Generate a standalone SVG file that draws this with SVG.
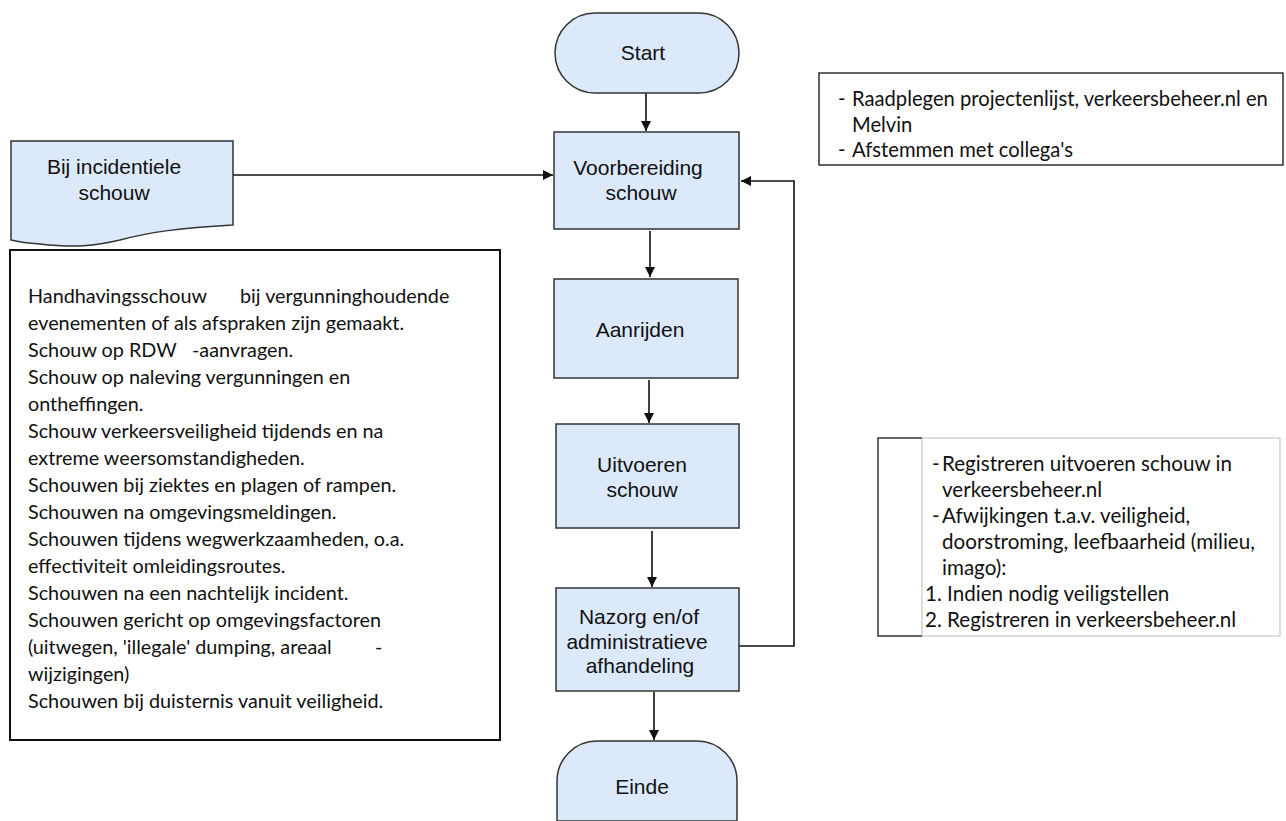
<svg xmlns="http://www.w3.org/2000/svg" width="1286" height="821" viewBox="0 0 1286 821">
<style>
.node{fill:#dbe9fb;stroke:#333;stroke-width:1.5}
.lbl{font-family:"Liberation Sans",Arial,sans-serif;font-size:21px;fill:#111;text-anchor:middle}
.body{font-family:Lato,"Open Sans",sans-serif;font-size:19.8px;fill:#111}
.top{font-size:20.2px}
.rt{font-size:20.6px}
.conn{fill:none;stroke:#111;stroke-width:1.6}
</style>
<defs>
<marker id="arr" viewBox="0 0 10 10" refX="10" refY="5" markerWidth="6.5" markerHeight="6.5" orient="auto" markerUnits="strokeWidth">
<path d="M0,0 L10,5 L0,10 z" fill="#111"/>
</marker>
</defs>
<rect width="1286" height="821" fill="#fff"/>

<g id="connectors">
<line class="conn" x1="646" y1="93" x2="646" y2="131" marker-end="url(#arr)"/>
<line class="conn" x1="650" y1="231" x2="650" y2="277" marker-end="url(#arr)"/>
<line class="conn" x1="649" y1="380" x2="649" y2="423" marker-end="url(#arr)"/>
<line class="conn" x1="652" y1="531" x2="652" y2="587" marker-end="url(#arr)"/>
<line class="conn" x1="654" y1="692" x2="654" y2="740" marker-end="url(#arr)"/>
<line class="conn" x1="233" y1="175" x2="553" y2="175" marker-end="url(#arr)"/>
<polyline class="conn" points="739,646 794,646 794,181 741,181" marker-end="url(#arr)"/>
</g>

<g id="start">
<rect class="node" x="555" y="13" width="184" height="80" rx="40" ry="40"/>
<text class="lbl" x="643" y="60">Start</text>
</g>

<g id="voorbereiding">
<rect class="node" x="554" y="132" width="185" height="97"/>
<text class="lbl" x="638" y="175">Voorbereiding</text>
<text class="lbl" x="641" y="200">schouw</text>
</g>

<g id="aanrijden">
<rect class="node" x="554" y="279" width="184" height="99"/>
<text class="lbl" x="640" y="337">Aanrijden</text>
</g>

<g id="uitvoeren">
<rect class="node" x="556" y="424" width="183" height="104"/>
<text class="lbl" x="642" y="472">Uitvoeren</text>
<text class="lbl" x="642" y="497">schouw</text>
</g>

<g id="nazorg">
<rect class="node" x="556" y="588" width="183" height="103"/>
<text class="lbl" x="639" y="624">Nazorg en/of</text>
<text class="lbl" x="637" y="649">administratieve</text>
<text class="lbl" x="640" y="673">afhandeling</text>
</g>

<g id="einde">
<path class="node" d="M597,741 H697 A40,40 0 0 1 737,781 V821 H557 V781 A40,40 0 0 1 597,741 Z"/>
<text class="lbl" x="642" y="794">Einde</text>
</g>

<g id="incidenteel">
<path class="node" d="M11,141 H233 V225 C180,228 150,232 120,240 C95,246 75,248 40,244 C25,243 15,241 11,240 Z"/>
<text class="lbl" x="114" y="174">Bij incidentiele</text>
<text class="lbl" x="114" y="200">schouw</text>
</g>

<g id="toelichting-links">
<rect x="10" y="250" width="490" height="490" fill="#fff" stroke="#111" stroke-width="2"/>
<text class="body" x="28" y="303">Handhavingsschouw<tspan x="240">bij vergunninghoudende</tspan></text>
<text class="body" x="28" y="330">evenementen of als afspraken zijn gemaakt.</text>
<text class="body" x="28" y="357">Schouw op RDW<tspan x="192">-aanvragen.</tspan></text>
<text class="body" x="28" y="384">Schouw op naleving vergunningen en</text>
<text class="body" x="28" y="411">ontheffingen.</text>
<text class="body" x="28" y="438">Schouw verkeersveiligheid tijdends en na</text>
<text class="body" x="28" y="465">extreme weersomstandigheden.</text>
<text class="body" x="28" y="492">Schouwen bij ziektes en plagen of rampen.</text>
<text class="body" x="28" y="519">Schouwen na omgevingsmeldingen.</text>
<text class="body" x="28" y="546">Schouwen tijdens wegwerkzaamheden, o.a.</text>
<text class="body" x="28" y="573">effectiviteit omleidingsroutes.</text>
<text class="body" x="28" y="600">Schouwen na een nachtelijk incident.</text>
<text class="body" x="28" y="627">Schouwen gericht op omgevingsfactoren</text>
<text class="body" x="28" y="654">(uitwegen, 'illegale' dumping, areaal<tspan x="375">-</tspan></text>
<text class="body" x="28" y="681">wijzigingen)</text>
<text class="body" x="28" y="708">Schouwen bij duisternis vanuit veiligheid.</text>
</g>

<g id="toelichting-voorbereiding">
<rect x="819" y="73" width="464" height="92" fill="#fff" stroke="#111" stroke-width="1.3"/>
<text class="body top" x="838" y="106">-<tspan x="852">Raadplegen projectenlijst, verkeersbeheer.nl en</tspan></text>
<text class="body top" x="852" y="132">Melvin</text>
<text class="body top" x="838" y="157">-<tspan x="852">Afstemmen met collega's</tspan></text>
</g>

<g id="toelichting-nazorg">
<rect x="922" y="438" width="358" height="198" fill="#fff" stroke="#bbb" stroke-width="1"/>
<polyline points="922,438 878,438 878,636 922,636" fill="none" stroke="#333" stroke-width="1.5"/>
<text class="body rt" x="932" y="471">-<tspan x="942">Registreren uitvoeren schouw in</tspan></text>
<text class="body rt" x="942" y="497">verkeersbeheer.nl</text>
<text class="body rt" x="932" y="523">-<tspan x="942">Afwijkingen t.a.v. veiligheid,</tspan></text>
<text class="body rt" x="942" y="549">doorstroming, leefbaarheid (milieu,</text>
<text class="body rt" x="942" y="575">imago):</text>
<text class="body rt" x="925" y="601">1. Indien nodig veiligstellen</text>
<text class="body rt" x="925" y="627">2. Registreren in verkeersbeheer.nl</text>
</g>
</svg>
